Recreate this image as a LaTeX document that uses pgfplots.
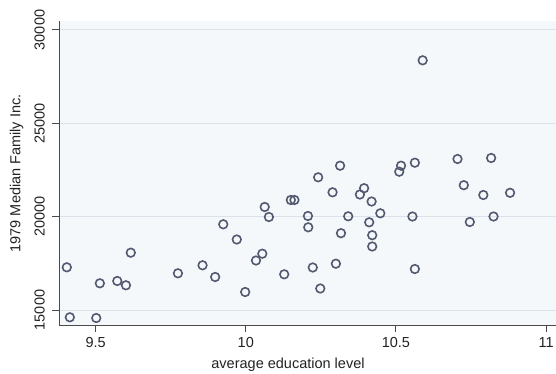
\documentclass[border=0pt]{standalone}
\usepackage{fontspec}
\setmainfont{Liberation Sans}
\usepackage{pgfplots}
\pgfplotsset{compat=1.18}
\definecolor{bgc}{HTML}{F5F8FA}
\definecolor{gridc}{HTML}{DCE2EA}
\definecolor{mk}{HTML}{535970}
\definecolor{axc}{HTML}{4A4A4A}
\definecolor{txt}{HTML}{222222}
\begin{document}
\begin{tikzpicture}
\begin{axis}[
  at={(59bp,48.3bp)}, anchor=south west,
  scale only axis, width=497bp, height=304.7bp,
  xmin=9.378, xmax=11.033, ymin=14159, ymax=30482,
  axis lines*=left,
  axis line style={axc, line width=1bp, -},
  axis background/.style={fill=bgc},
  scaled x ticks=false, scaled y ticks=false,
  xtick={9.5,10,10.5,11}, xticklabels={9.5,10,10.5,11},
  ytick={15000,20000,25000,30000}, yticklabels={15000,20000,25000,30000},
  ymajorgrids, grid style={gridc, line width=1bp},
  tick align=outside, major tick length=6.5bp,
  tick style={axc, line width=1bp},
  /pgf/number format/assume math mode=true,
  tick label style={font=\fontsize{14.5bp}{17bp}\selectfont, text=txt},
  label style={font=\fontsize{14.5bp}{17bp}\selectfont, text=txt},
  xticklabel style={anchor=base},
  xticklabel shift={15.5bp},
  yticklabel style={rotate=90, anchor=base},
  yticklabel shift={8bp},
  xlabel={average education level},
  ylabel={1979 Median Family Inc.},
  xlabel style={at={(axis description cs:0.4608,-0.142)}, anchor=base},
  ylabel style={at={(axis description cs:-0.0777,0.5)}, anchor=base},
  clip=false,
]
\addplot[only marks, mark=o, mark size=4.3bp, mark options={mk, line width=1.6bp}] coordinates {
(9.404,17287) (9.414,14609) (9.502,14571) (9.514,16430) (9.572,16554)
(9.601,16323) (9.617,18070) (9.774,16966) (9.856,17395) (9.898,16768)
(9.925,19591) (9.970,18777) (9.998,15964) (10.034,17652) (10.055,18016)
(10.063,20518) (10.077,19982) (10.128,16912) (10.150,20893) (10.162,20893)
(10.207,20036) (10.208,19430) (10.223,17277) (10.241,22109) (10.248,16152)
(10.289,21305) (10.300,17480) (10.314,22730) (10.317,19114) (10.341,20020)
(10.380,21187) (10.394,21525) (10.411,19698) (10.419,20812) (10.421,19007)
(10.421,18402) (10.448,20180) (10.511,22409) (10.517,22730) (10.555,20009)
(10.563,17196) (10.563,22891) (10.589,28376) (10.705,23089) (10.726,21686)
(10.746,19714) (10.791,21161) (10.817,23143) (10.825,20009) (10.880,21278)
};
\end{axis}
\pgfresetboundingbox
\useasboundingbox (0,0) rectangle (556bp,374bp);
\end{tikzpicture}
\end{document}
